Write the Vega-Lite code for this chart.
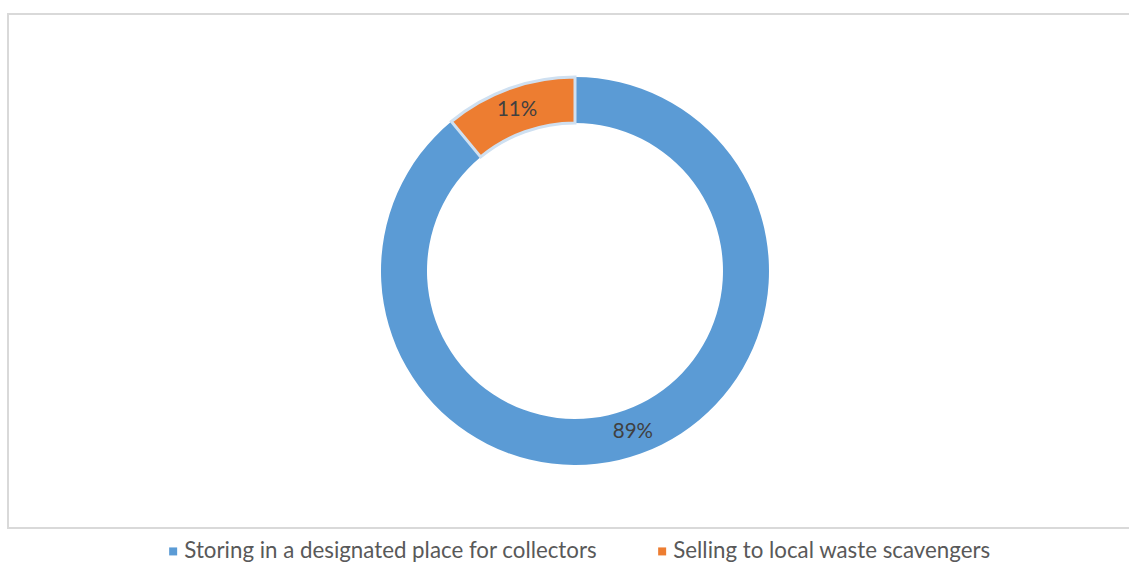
{
  "$schema": "https://vega.github.io/schema/vega-lite/v6.json",
  "width": 1134,
  "height": 514,
  "padding": {"left": 8, "top": 14, "right": 0, "bottom": 0},
  "background": "white",
  "view": {"stroke": "#d9d9d9", "strokeWidth": 2, "fill": null},
  "config": {"view": {"stroke": "#d9d9d9", "strokeWidth": 2}, "font": "Lato"},
  "data": {"values": [
    {"category": "Storing in a designated place for collectors", "value": 89, "label": "89%", "order": 1},
    {"category": "Selling to local waste scavengers", "value": 11, "label": "11%", "order": 2}
  ]},
  "encoding": {
    "theta": {"field": "value", "type": "quantitative", "stack": true},
    "order": {"field": "order", "type": "quantitative"},
    "color": {
      "field": "category", "type": "nominal",
      "scale": {"domain": ["Storing in a designated place for collectors", "Selling to local waste scavengers"], "range": ["#5B9BD5", "#ED7D31"]},
      "sort": ["Storing in a designated place for collectors", "Selling to local waste scavengers"],
      "legend": {
        "title": null, "orient": "none", "legendX": 154, "legendY": 526, "direction": "horizontal",
        "symbolType": "square", "symbolSize": 64, "symbolStrokeWidth": 0,
        "labelFontSize": 22.3, "labelColor": "#595959", "labelFont": "Lato",
        "columnPadding": 53, "labelOffset": 0, "labelLimit": 700
      }
    }
  },
  "layer": [
    {
      "mark": {"type": "arc", "outerRadius": 194, "innerRadius": 148},
      "encoding": {
        "stroke": {"condition": {"test": "datum.order == 2", "value": "#cfe0f1"}, "value": null},
        "strokeWidth": {"condition": {"test": "datum.order == 2", "value": 3}, "value": 0}
      }
    },
    {
      "mark": {"type": "text", "radius": 171, "fontSize": 20.5, "color": "#404040", "font": "Lato"},
      "encoding": {"text": {"field": "label"}, "color": {"value": "#404040"}}
    }
  ]
}
